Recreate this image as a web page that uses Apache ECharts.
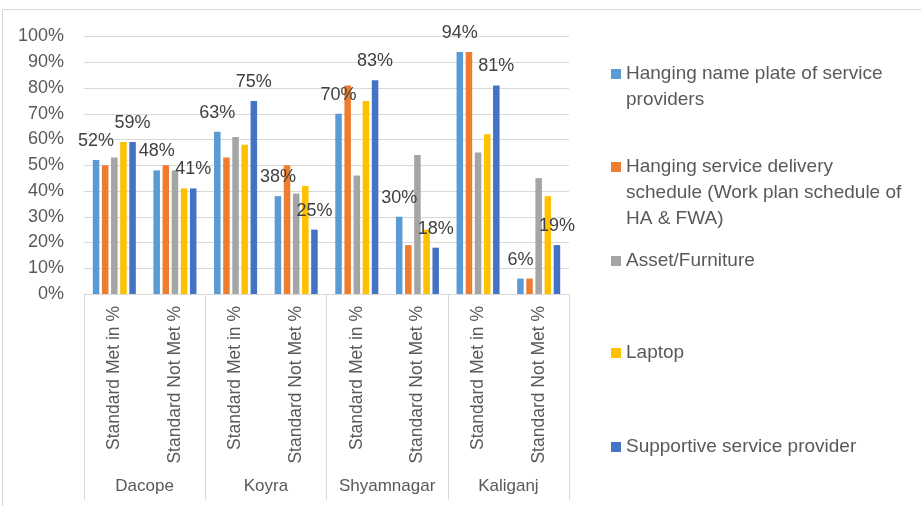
<!DOCTYPE html>
<html>
<head>
<meta charset="utf-8">
<script src="https://cdn.jsdelivr.net/npm/echarts@6/dist/echarts.min.js"></script>
<style>html,body{margin:0;padding:0;background:#fff;}#c{width:921px;height:506px;}</style>
</head>
<body>
<div id="c"></div>
<script>
var categories = ['Standard Met in %', 'Standard Not Met %', 'Standard Met in %', 'Standard Not Met %', 'Standard Met in %', 'Standard Not Met %', 'Standard Met in %', 'Standard Not Met %'];
var districts = ['Dacope', 'Koyra', 'Shyamnagar', 'Kaliganj'];
var yTicks = [0, 10, 20, 30, 40, 50, 60, 70, 80, 90, 100];
var seriesNames = ['Hanging name plate of service providers', 'Hanging service delivery schedule (Work plan schedule of HA & FWA)', 'Asset/Furniture', 'Laptop', 'Supportive service provider'];
var namePlate = [52, 48, 63, 38, 70, 30, 94, 6];
var schedule = [50, 50, 53, 50, 81, 19, 94, 6];
var asset = [53, 48, 61, 39, 46, 54, 55, 45];
var laptop = [59, 41, 58, 42, 75, 25, 62, 38];
var supportive = [59, 41, 75, 25, 83, 18, 81, 19];

var legendLines = {};
legendLines[seriesNames[0]] = 'Hanging name plate of service\nproviders';
legendLines[seriesNames[1]] = 'Hanging service delivery\nschedule (Work plan schedule of\nHA & FWA)';
legendLines[seriesNames[2]] = 'Asset/Furniture';
legendLines[seriesNames[3]] = 'Laptop';
legendLines[seriesNames[4]] = 'Supportive service provider';

var colors = ['#5B9BD5', '#ED7D31', '#A5A5A5', '#FFC000', '#4472C4'];
var font = 'Liberation Sans, Arial, sans-serif';
var values = [namePlate, schedule, asset, laptop, supportive];
var showLabels = [true, false, false, false, true];
var legendTops = [61, 154, 248, 340, 434];
var legendLineCount = [2, 3, 1, 1, 1];

var chart = echarts.init(document.getElementById('c'));
var series = values.map(function (v, i) {
  return {
    name: seriesNames[i],
    type: 'bar',
    xAxisIndex: 0,
    data: v,
    itemStyle: { color: colors[i] },
    barGap: '40%',
    barCategoryGap: '29%',
    label: {
      show: showLabels[i],
      position: 'top',
      distance: 10,
      formatter: '{c}%',
      color: '#404040',
      fontSize: 18,
      fontFamily: font
    }
  };
});

var legends = seriesNames.map(function (n, i) {
  var lines = legendLineCount[i];
  var h = lines > 1 ? (lines * 26 - 16) : 10;
  var icon = lines > 1 ? ('path://M0,0H10V10H0Z M0,' + h + 'H0.01V' + (h + 0.01) + 'H0Z') : 'rect';
  return {
    data: [n],
    left: 611,
    top: legendTops[i],
    orient: 'vertical',
    padding: 0,
    itemWidth: 10,
    itemHeight: h,
    itemGap: 0,
    icon: icon,
    formatter: function (name) { return legendLines[name]; },
    textStyle: {
      color: '#595959',
      fontSize: 19,
      fontFamily: font,
      lineHeight: 26
    }
  };
});

chart.setOption({
  animation: false,
  backgroundColor: '#ffffff',
  color: colors,
  graphic: [{
    type: 'rect',
    shape: { x: 2.5, y: 9.5, width: 940, height: 520 },
    style: { fill: 'none', stroke: '#D9D9D9', lineWidth: 1 },
    silent: true
  }],
  legend: legends,
  grid: { left: 84, right: 352, top: 36.5, bottom: 212, containLabel: false },
  xAxis: [{
    type: 'category',
    data: categories,
    position: 'bottom',
    axisLine: { show: true, lineStyle: { color: '#D9D9D9', width: 1 } },
    axisTick: { show: false },
    axisLabel: {
      rotate: 90,
      interval: 0,
      margin: 12,
      color: '#595959',
      fontSize: 17.5,
      fontFamily: font
    }
  }, {
    type: 'category',
    data: districts,
    position: 'bottom',
    axisLine: { show: false },
    axisTick: { show: true, length: 206, lineStyle: { color: '#D9D9D9', width: 1 } },
    axisLabel: {
      interval: 0,
      margin: 184,
      color: '#595959',
      fontSize: 17,
      fontFamily: font
    }
  }],
  yAxis: {
    type: 'value',
    min: yTicks[0],
    max: yTicks[yTicks.length - 1],
    interval: 10,
    axisLine: { show: false },
    axisTick: { show: false },
    splitLine: { lineStyle: { color: '#D9D9D9', width: 1 } },
    axisLabel: {
      formatter: '{value}%',
      margin: 20,
      color: '#595959',
      fontSize: 18,
      fontFamily: font
    }
  },
  series: series
});
</script>
</body>
</html>
